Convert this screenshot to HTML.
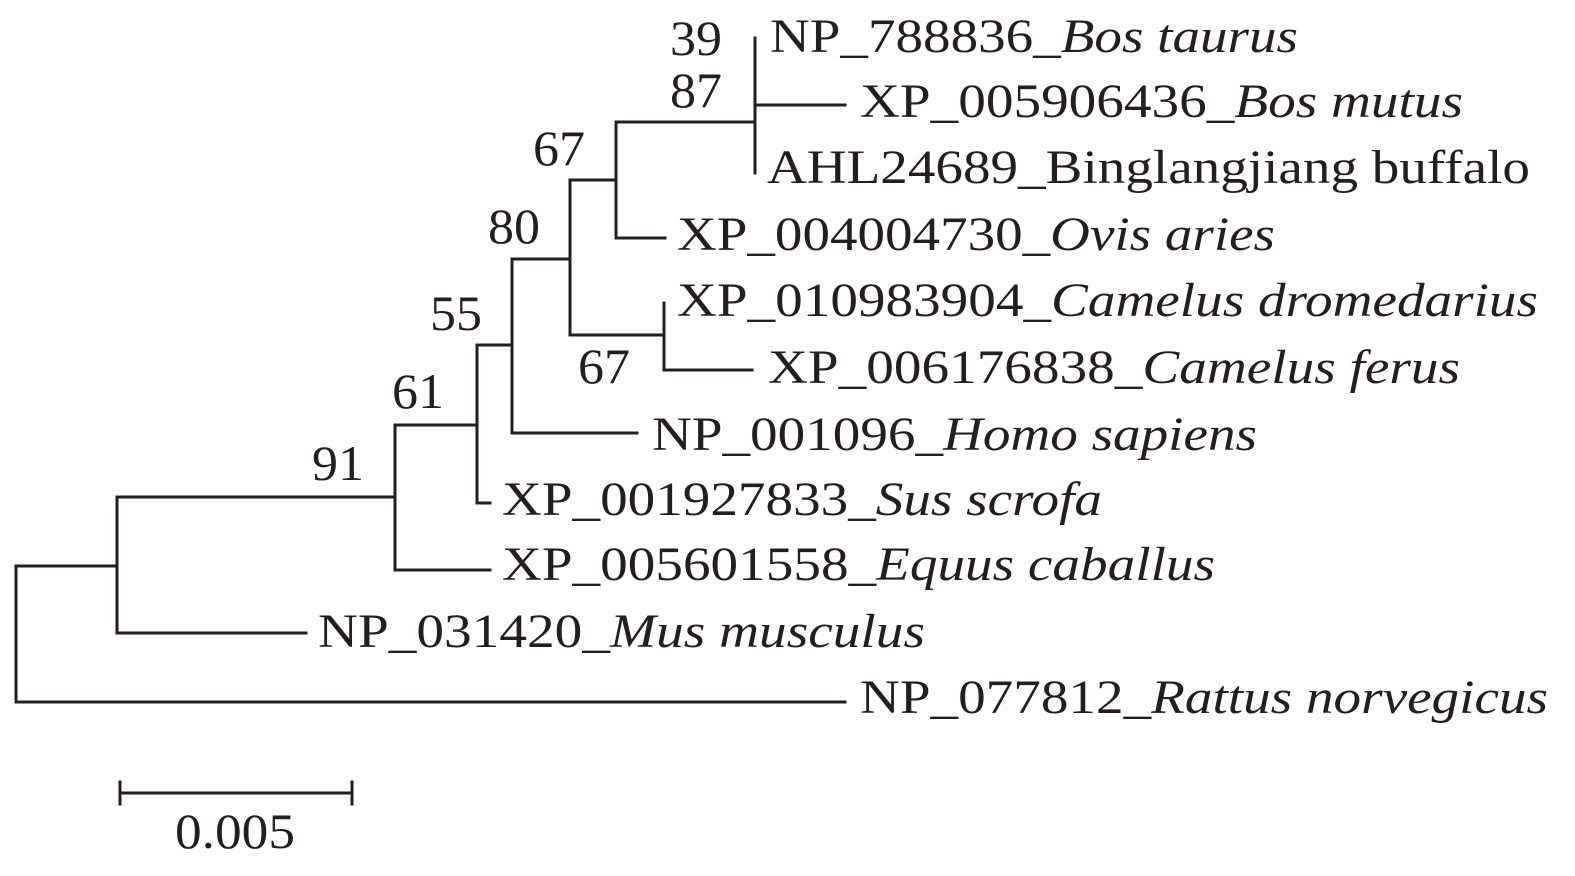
<!DOCTYPE html>
<html><head><meta charset="utf-8"><style>
html,body{margin:0;padding:0;background:#fff;}
svg{display:block;}
text{font-family:"Liberation Serif","Times New Roman","Nimbus Roman","Nimbus Roman No9 L",Times,serif;font-size:48px;fill:#231f20;}
.n{font-size:50px;}
</style></head><body>
<svg width="1575" height="876" viewBox="0 0 1575 876" xmlns="http://www.w3.org/2000/svg">
<g stroke="#231f20" stroke-width="3" fill="none" stroke-linecap="square">
<path d="M16 566 V702 H845"/>
<path d="M16 566 H117"/>
<path d="M117 497 V633 H306"/>
<path d="M117 497 H395"/>
<path d="M395 425 V570 H490"/>
<path d="M395 425 H477"/>
<path d="M477 345 V503 H490"/>
<path d="M477 345 H512"/>
<path d="M512 259 V433 H637"/>
<path d="M512 259 H570"/>
<path d="M570 180 V335 H664"/>
<path d="M570 180 H616"/>
<path d="M616 122 V238 H665"/>
<path d="M616 122 H755"/>
<path d="M755 38 V173"/>
<path d="M755 105 H845"/>
<path d="M664 303 V370 H752"/>
<path d="M120 793 H352"/>
<path d="M120 782 V804"/>
<path d="M352 782 V804"/>
</g>
<text x="770" y="52" textLength="528" lengthAdjust="spacingAndGlyphs">NP_788836_<tspan font-style="italic">Bos taurus</tspan></text>
<text x="860" y="117" textLength="603" lengthAdjust="spacingAndGlyphs">XP_005906436_<tspan font-style="italic">Bos mutus</tspan></text>
<text x="767" y="183" textLength="763" lengthAdjust="spacingAndGlyphs">AHL24689_Binglangjiang buffalo</text>
<text x="677" y="250" textLength="598" lengthAdjust="spacingAndGlyphs">XP_004004730_<tspan font-style="italic">Ovis aries</tspan></text>
<text x="677" y="316" textLength="861" lengthAdjust="spacingAndGlyphs">XP_010983904_<tspan font-style="italic">Camelus dromedarius</tspan></text>
<text x="768" y="383" textLength="692" lengthAdjust="spacingAndGlyphs">XP_006176838_<tspan font-style="italic">Camelus ferus</tspan></text>
<text x="652" y="450" textLength="605" lengthAdjust="spacingAndGlyphs">NP_001096_<tspan font-style="italic">Homo sapiens</tspan></text>
<text x="502" y="515" textLength="600" lengthAdjust="spacingAndGlyphs">XP_001927833_<tspan font-style="italic">Sus scrofa</tspan></text>
<text x="502" y="580" textLength="713" lengthAdjust="spacingAndGlyphs">XP_005601558_<tspan font-style="italic">Equus caballus</tspan></text>
<text x="318" y="647" textLength="607" lengthAdjust="spacingAndGlyphs">NP_031420_<tspan font-style="italic">Mus musculus</tspan></text>
<text x="860" y="713" textLength="688" lengthAdjust="spacingAndGlyphs">NP_077812_<tspan font-style="italic">Rattus norvegicus</tspan></text>
<text class="n" x="670" y="55" textLength="52" lengthAdjust="spacingAndGlyphs">39</text>
<text class="n" x="670" y="107" textLength="52" lengthAdjust="spacingAndGlyphs">87</text>
<text class="n" x="533" y="165" textLength="52" lengthAdjust="spacingAndGlyphs">67</text>
<text class="n" x="488" y="243" textLength="52" lengthAdjust="spacingAndGlyphs">80</text>
<text class="n" x="430" y="330" textLength="52" lengthAdjust="spacingAndGlyphs">55</text>
<text class="n" x="392" y="408" textLength="52" lengthAdjust="spacingAndGlyphs">61</text>
<text class="n" x="312" y="480" textLength="52" lengthAdjust="spacingAndGlyphs">91</text>
<text class="n" x="578" y="383" textLength="52" lengthAdjust="spacingAndGlyphs">67</text>
<text class="n" x="175" y="848" textLength="120" lengthAdjust="spacingAndGlyphs">0.005</text>
</svg>
</body></html>
